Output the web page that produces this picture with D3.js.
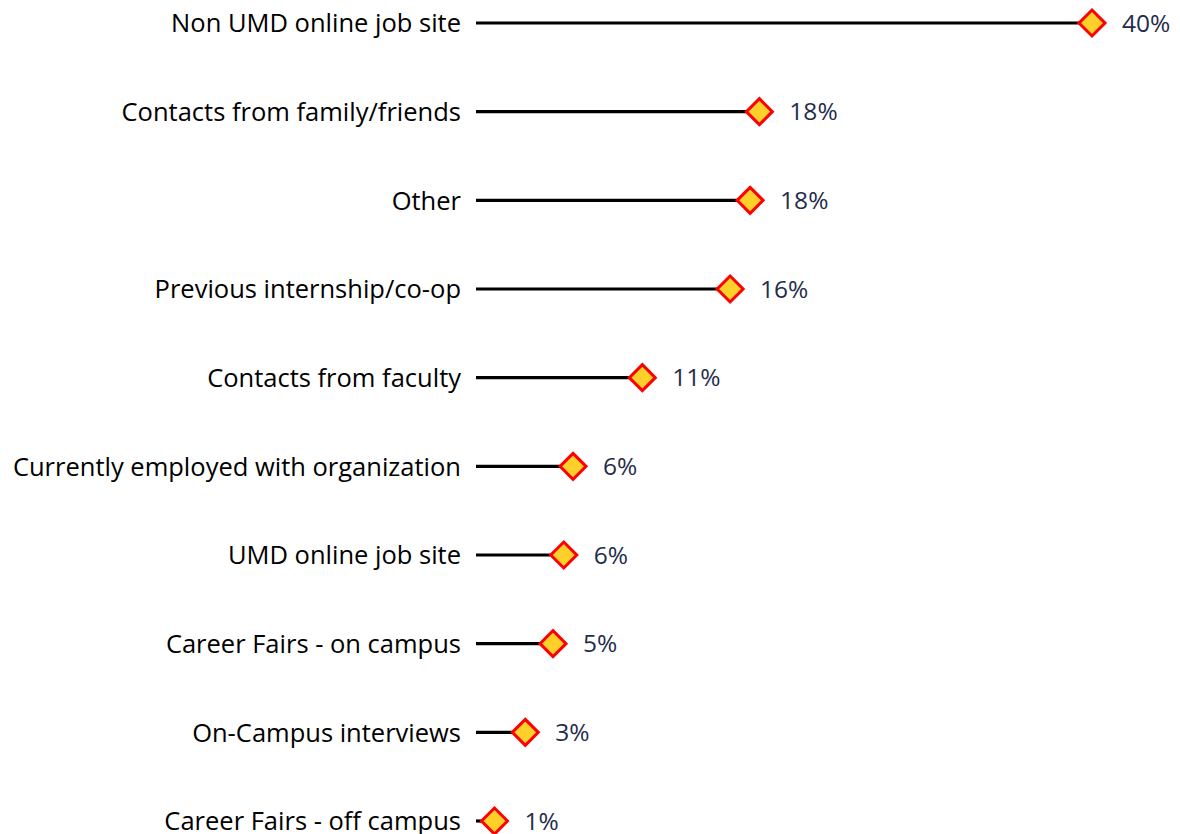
<!DOCTYPE html>
<html><head><meta charset="utf-8">
<script src="https://cdn.jsdelivr.net/npm/d3@7"></script>
<style>body{margin:0;background:#fff}svg{display:block}</style>
</head><body>
<svg id="c" width="1180" height="834"></svg>
<script>
const categories = ["Non UMD online job site","Contacts from family/friends","Other","Previous internship/co-op","Contacts from faculty","Currently employed with organization","UMD online job site","Career Fairs - on campus","On-Campus interviews","Career Fairs - off campus"];
const values = [40.0, 18.4, 17.8, 16.5, 10.8, 6.3, 5.7, 5.0, 3.2, 1.2];
const valueLabels = ["40%","18%","18%","16%","11%","6%","6%","5%","3%","1%"];

const svg = d3.select("#c");
const x = d3.scaleLinear().domain([0, 40]).range([476, 1092]);
const y = d3.scalePoint().domain(categories).range([23, 821]);
const font = "Open Sans, sans-serif";

const g = svg.append("g");
categories.forEach((c, i) => {
  const yy = y(c);
  const xv = x(values[i]);
  g.append("text").attr("x", 461).attr("y", yy).attr("dy", "0.36em")
    .attr("text-anchor", "end").attr("font-family", font).attr("font-size", 25.5)
    .attr("fill", "#000").text(c);
  g.append("line").attr("x1", x(0)).attr("x2", xv).attr("y1", yy).attr("y2", yy)
    .attr("stroke", "#000").attr("stroke-width", 3.2);
  const s = 13;
  g.append("path")
    .attr("d", `M${xv},${yy - s}L${xv + s},${yy}L${xv},${yy + s}L${xv - s},${yy}Z`)
    .attr("fill", "#FFD02A").attr("stroke", "#FF0000").attr("stroke-width", 3);
  g.append("text").attr("x", xv + 30).attr("y", yy).attr("dy", "0.36em")
    .attr("font-family", font).attr("font-size", 24.5).attr("fill", "#1F2D4B").text(valueLabels[i]);
});
</script>
</body></html>
